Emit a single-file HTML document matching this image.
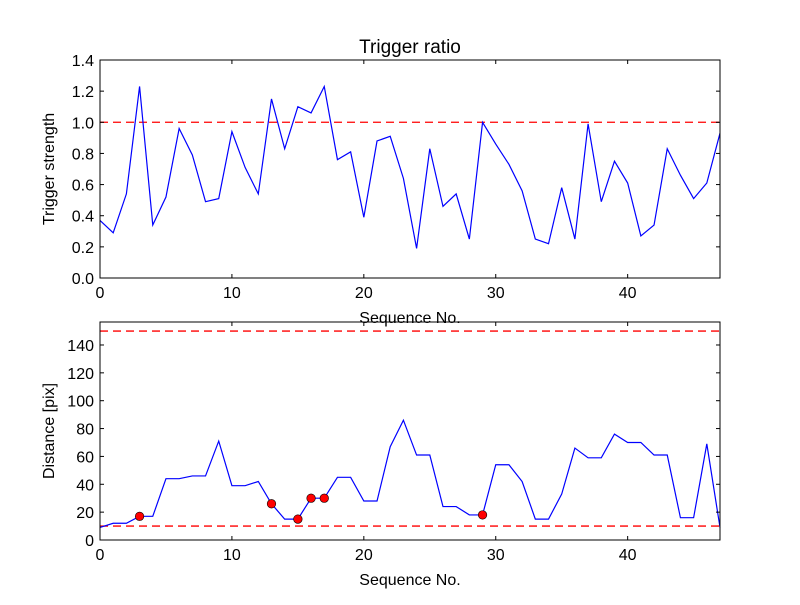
<!DOCTYPE html>
<html><head><meta charset="utf-8"><style>
body{margin:0;background:#fff;}
svg text{font-family:"Liberation Sans","DejaVu Sans",sans-serif;}
</style></head><body>
<svg id="c" width="800" height="600" xmlns="http://www.w3.org/2000/svg">
<rect width="800" height="600" fill="#fff"/>
</svg>
<script>
const seq = Array.from({length:48},(_,i)=>i);
const strength = [0.37,0.29,0.54,1.23,0.34,0.52,0.96,0.79,0.49,0.51,0.94,0.71,0.54,1.15,0.83,1.10,1.06,1.23,0.76,0.81,0.39,0.88,0.91,0.64,0.19,0.83,0.46,0.54,0.25,1.00,0.86,0.73,0.56,0.25,0.22,0.58,0.25,0.99,0.49,0.75,0.61,0.27,0.34,0.83,0.66,0.51,0.61,0.93];
const distance = [9,12,12,17,17,44,44,46,46,71,39,39,42,26,15,15,30,30,45,45,28,28,67,86,61,61,24,24,18,18,54,54,42,15,15,33,66,59,59,76,70,70,61,61,16,16,69,9];
const markerIdx = [3,13,15,16,17,29];
const xTicks = [0,10,20,30,40];
const topYTicks = [0.0,0.2,0.4,0.6,0.8,1.0,1.2,1.4];
const botYTicks = [0,20,40,60,80,100,120,140];
const topThresh = [1.0];
const botThresh = [10,150];

const svg=document.getElementById('c');
const NS='http://www.w3.org/2000/svg';
function el(t,a,p){const e=document.createElementNS(NS,t);for(const k in a)e.setAttribute(k,a[k]);(p||svg).appendChild(e);return e;}
const X0=100,X1=720,XMAX=47;
const sx=v=>X0+(v/XMAX)*(X1-X0);

function panel(top,bot,ymax,yt,fmt,data,thr,ylabel,name){
  const sy=v=>bot-(v/ymax)*(bot-top);
  const g=el('g',{});
  
  
  thr.forEach(t=>{const l=el('line',{x1:X0,x2:X1,y1:sy(t),y2:sy(t),stroke:'#f00','stroke-width':1.3,'stroke-dasharray':'8,5'},g);
    });
  const pl=el('polyline',{points:data.map((v,i)=>sx(seq[i])+','+sy(v)).join(' '),fill:'none',stroke:'#00f','stroke-width':1.2},g);
  
  el('rect',{x:X0,y:top,width:X1-X0,height:bot-top,fill:'none',stroke:'#000','stroke-width':1},g);
  xTicks.forEach(t=>{const x=sx(t);
    el('line',{x1:x,x2:x,y1:bot,y2:bot-4,stroke:'#000'},g);el('line',{x1:x,x2:x,y1:top,y2:top+4,stroke:'#000'},g);
    const tx=el('text',{x:x,y:bot+20,'font-size':16,'text-anchor':'middle'},g);tx.textContent=t;
    });
  yt.forEach(t=>{const y=sy(t);
    el('line',{x1:X0,x2:X0+4,y1:y,y2:y,stroke:'#000'},g);el('line',{x1:X1,x2:X1-4,y1:y,y2:y,stroke:'#000'},g);
    const tx=el('text',{x:X0-6,y:y+6,'font-size':16,'text-anchor':'end'},g);tx.textContent=fmt(t);
    });
  const xl=el('text',{x:410,y:bot+45,'font-size':16,'text-anchor':'middle'},g);xl.textContent='Sequence No.';
  
  const yl=el('text',{x:0,y:0,'font-size':16,'text-anchor':'middle',transform:`translate(${X0-46},${(top+bot)/2}) rotate(-90)`},g);yl.textContent=ylabel;
  
  return sy;
}
panel(60,278,1.4,topYTicks,t=>t.toFixed(1),strength,topThresh,'Trigger strength','top-panel');
const sy2=panel(322,540,156.5,botYTicks,t=>String(t),distance,botThresh,'Distance [pix]','bottom-panel');
markerIdx.forEach(i=>{const c=el('circle',{cx:sx(seq[i]),cy:sy2(distance[i]),r:4.3,fill:'#f00',stroke:'#000','stroke-width':0.6});
  });
const title=el('text',{x:410,y:53,'font-size':19,'text-anchor':'middle'});title.textContent='Trigger ratio';

</script>
</body></html>
